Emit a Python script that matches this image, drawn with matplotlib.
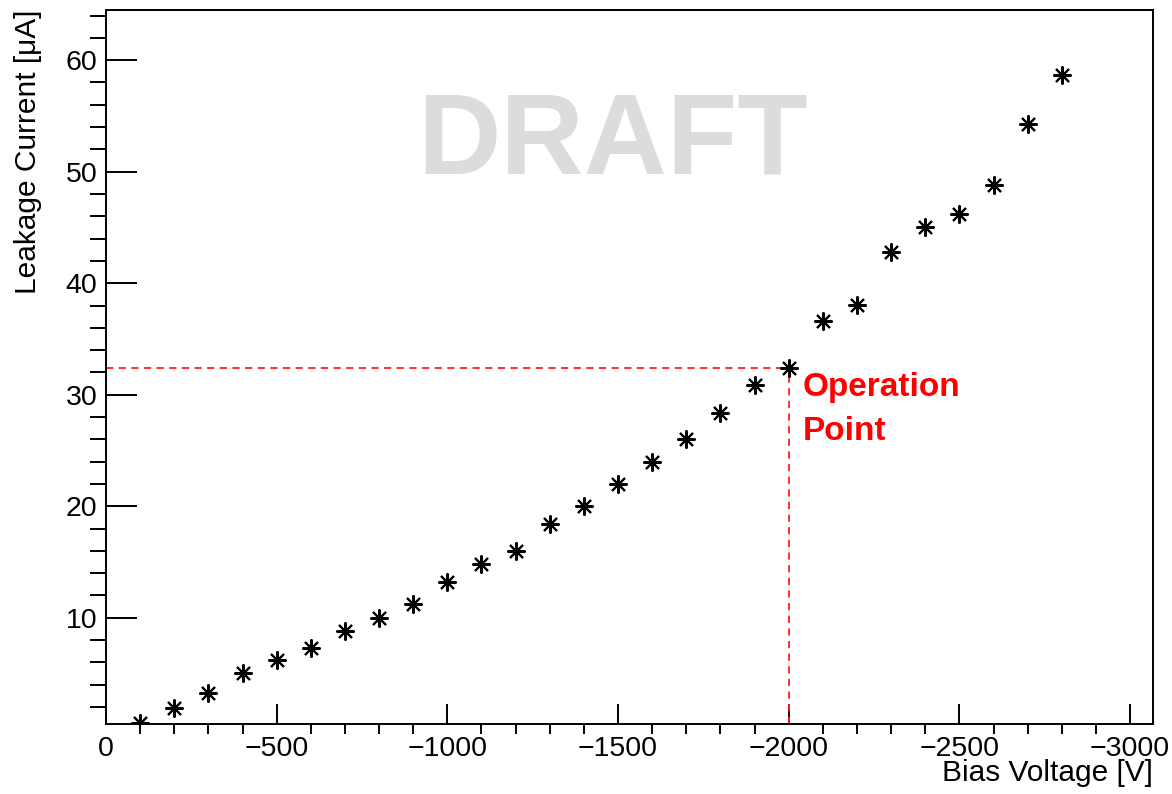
import matplotlib.pyplot as plt
from matplotlib.ticker import MultipleLocator

plt.rcParams['font.family'] = ['Liberation Sans', 'DejaVu Sans']

# bias scan, points every -100 V
bias_v = [-100, -200, -300, -400, -500, -600, -700, -800, -900, -1000,
          -1100, -1200, -1300, -1400, -1500, -1600, -1700, -1800, -1900, -2000,
          -2100, -2200, -2300, -2400, -2500, -2600, -2700, -2800]
leak_ua = [0.53, 1.88, 3.22, 5.01, 6.18, 7.31, 8.81, 10.0, 11.2, 13.2,
           14.8, 16.0, 18.4, 20.0, 22.0, 24.0, 26.0, 28.4, 30.9, 32.4,
           36.6, 38.05, 42.8, 45.0, 46.2, 48.8, 54.3, 58.7]
op_v = -2000
op_i = 32.4

fig = plt.figure(figsize=(11.72, 7.94), dpi=100)
ax = fig.add_axes([0.0904, 0.0885, 0.8934, 0.8989])

# red dashed guide lines to the operation point
dash = dict(color='#ff2020', lw=1.3, ls=(0, (4, 3)), zorder=2)
ax.plot([0, op_v], [op_i, op_i], **dash)
ax.plot([op_v, op_v], [0.5, op_i], **dash)

ax.plot(bias_v, leak_ua, ls='none', marker=(8, 2, 0), ms=13, mew=1.5,
        color='black', zorder=3)
ax.plot(bias_v, leak_ua, ls='none', marker='o', ms=3, color='black', zorder=3)

ax.text(0.484, 0.813, 'DRAFT', transform=ax.transAxes, ha='center', va='center',
        fontsize=83, fontweight='bold', color='#dcdcdc', zorder=0)
ax.text(-2042, 29.9, 'Operation', color='red', fontsize=24, fontweight='bold')
ax.text(-2042, 25.95, 'Point', color='red', fontsize=24, fontweight='bold')

ax.set_xlim(0, -3067)
ax.set_ylim(0.5, 64.5)
ax.xaxis.set_major_locator(MultipleLocator(500))
ax.xaxis.set_minor_locator(MultipleLocator(100))
ax.yaxis.set_major_locator(MultipleLocator(10))
ax.yaxis.set_minor_locator(MultipleLocator(2))

ax.tick_params(axis='both', direction='in', labelsize=20.5, width=1.4,
               top=False, right=False)
ax.tick_params(axis='x', which='major', length=14.4, pad=9)
ax.tick_params(axis='x', which='minor', length=7.2, width=1.4)
ax.tick_params(axis='y', which='major', length=22.3, pad=6)
ax.tick_params(axis='y', which='minor', length=11.5, width=1.4)
for s in ax.spines.values():
    s.set_linewidth(1.4)

ax.set_xlabel('Bias Voltage [V]', fontsize=21.5, loc='right', labelpad=-2)
ax.set_ylabel('Leakage Current [\u03bcA]', fontsize=21.5, loc='top', labelpad=17)

fig.savefig('out.png', dpi=100)
